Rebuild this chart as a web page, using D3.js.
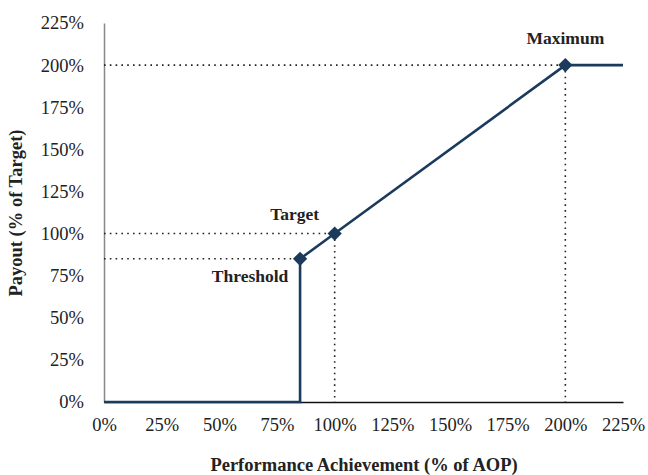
<!DOCTYPE html>
<html><head><meta charset="utf-8">
<script src="https://cdn.jsdelivr.net/npm/d3@7"></script>
<style>body{margin:0;background:#fff}svg{display:block}</style>
</head><body>
<script>
const ticks = [0,25,50,75,100,125,150,175,200,225];
const payoutLine = [[0,0],[85,0],[85,85],[100,100],[200,200],[225,200]];
const points = [[85,85],[100,100],[200,200]];
const pointLabels = ["Threshold","Target","Maximum"];
const xTitle = "Performance Achievement (% of AOP)";
const yTitle = "Payout (% of Target)";

const W=648,H=475;
const m={l:104,t:23,r:25,b:73};
const svg=d3.select("body").append("svg").attr("width",W).attr("height",H);
const x=d3.scaleLinear().domain([0,225]).range([m.l,W-m.r]);
const y=d3.scaleLinear().domain([0,225]).range([H-m.b,m.t]);
const font="'Liberation Serif','DejaVu Serif',serif";
const navy="#1b3a5c";

// y axis
const ya=svg.append("g").attr("transform",`translate(${x(0)},0)`)
  .call(d3.axisLeft(y).tickValues(ticks).tickFormat(d=>d+"%").tickSize(0).tickPadding(20));
ya.select(".domain").attr("stroke","#888").attr("stroke-width",1.5);
ya.selectAll("text").attr("font-family",font).attr("font-size",18.5).attr("fill","#222");
// x axis
const xa=svg.append("g").attr("transform",`translate(0,${y(0)})`)
  .call(d3.axisBottom(x).tickValues(ticks).tickFormat(d=>d+"%").tickSize(0).tickPadding(16));
xa.select(".domain").attr("stroke","#111").attr("stroke-width",1.5);
xa.selectAll("text").attr("font-family",font).attr("font-size",18.5).attr("fill","#222");

// dotted guides
points.forEach(p=>{
  svg.append("line").attr("x1",x(0)).attr("x2",x(p[0])).attr("y1",y(p[1])).attr("y2",y(p[1]))
    .attr("stroke","#222").attr("stroke-width",1.6).attr("stroke-dasharray","1.6,4.2");
  svg.append("line").attr("x1",x(p[0])).attr("x2",x(p[0])).attr("y1",y(p[1])).attr("y2",y(0))
    .attr("stroke","#222").attr("stroke-width",1.6).attr("stroke-dasharray","1.6,4.2");
});

// line
svg.append("path").datum(payoutLine)
  .attr("d",d3.line().x(d=>x(d[0])).y(d=>y(d[1])))
  .attr("fill","none").attr("stroke",navy).attr("stroke-width",2.6);

// markers
svg.selectAll(".mk").data(points).enter().append("path")
  .attr("d",d3.symbol().type(d3.symbolDiamond2).size(130))
  .attr("transform",d=>`translate(${x(d[0])},${y(d[1])})`)
  .attr("fill",navy);

// point labels
const lblPos=[[-50,19],[-40,-18],[0,-25]];
svg.selectAll(".pl").data(points).enter().append("text")
  .attr("x",(d,i)=>x(d[0])+lblPos[i][0]).attr("y",(d,i)=>y(d[1])+lblPos[i][1])
  .attr("text-anchor","middle").attr("dominant-baseline","middle")
  .attr("font-family",font).attr("font-size",17.5).attr("font-weight","bold").attr("fill","#222")
  .text((d,i)=>pointLabels[i]);

// axis titles
svg.append("text").attr("x",364).attr("y",467).attr("text-anchor","middle").attr("dominant-baseline","middle")
  .attr("font-family",font).attr("font-size",18.5).attr("font-weight","bold").attr("fill","#222").text(xTitle);
svg.append("text").attr("transform","translate(18,213) rotate(-90)").attr("text-anchor","middle").attr("dominant-baseline","middle")
  .attr("font-family",font).attr("font-size",18.5).attr("font-weight","bold").attr("fill","#222").text(yTitle);
</script>
</body></html>
